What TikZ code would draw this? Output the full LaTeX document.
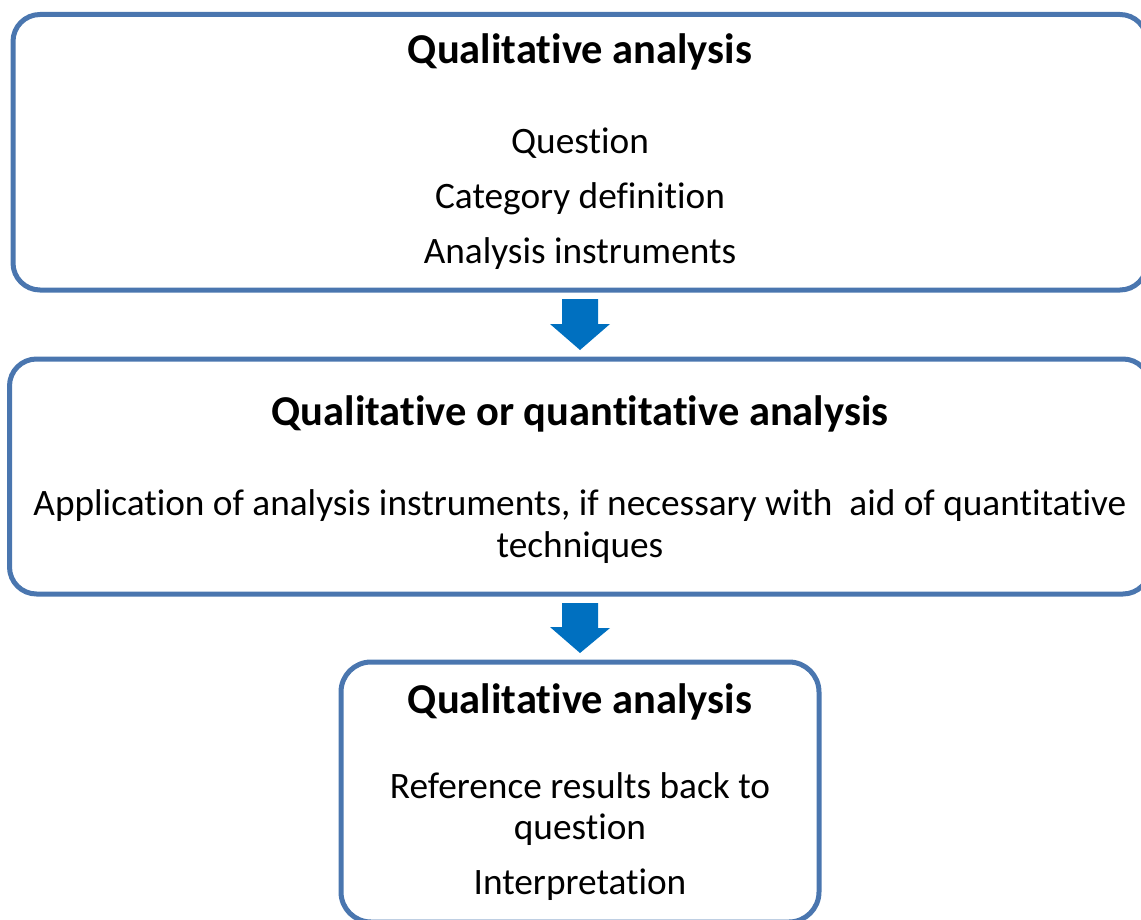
\documentclass[tikz,border=0pt]{standalone}
\usepackage{fontspec}
\setmainfont{Carlito}[Ligatures=NoCommon]
\usetikzlibrary{calc}
\definecolor{boxline}{RGB}{74,118,175}
\definecolor{flowblue}{RGB}{0,112,192}
\begin{document}
\begin{tikzpicture}[x=1pt,y=-1pt,
  stage/.style={draw=boxline, line width=5pt, rounded corners=27pt,
    rectangle, inner sep=0pt, outer sep=0pt},
  headline/.style={anchor=base, inner sep=0pt, font=\fontsize{42.5}{50}\selectfont\bfseries},
  bodyline/.style={anchor=base, inner sep=0pt, font=\fontsize{37.3}{42}\selectfont},
  flow/.style={fill=flowblue}]
\useasboundingbox (0,0) rectangle (1141,920);
\clip (0,0) rectangle (1141,920);

% stage boxes
\node[stage, minimum width=1134pt, minimum height=275.5pt] (top) at (580,152.25) {};
\node[stage, minimum width=1140.5pt, minimum height=235pt] (mid) at (579.75,476.5) {};
\node[stage, rounded corners=30pt, minimum width=478pt, minimum height=260pt] (bot) at (580,792) {};

% first stage
\node[headline] (t1) at (580,63.5) {Qualitative analysis};
\node[bodyline] (t1a) at (580,153.5) {Question};
\node[bodyline] (t1b) at (580,209) {Category definition};
\node[bodyline] (t1c) at (580,264) {Analysis instruments};

% second stage
\node[headline] (t2) at (580,425) {Qualitative or quantitative analysis};
\node[bodyline] (t2a) at (580,515.5) {Application of analysis instruments, if necessary with\ \ aid of quantitative};
\node[bodyline] (t2b) at (580,557) {techniques};

% third stage
\node[headline] (t3) at (580,713) {Qualitative analysis};
\node[bodyline] (t3a) at (580,798) {Reference results back to};
\node[bodyline] (t3b) at (580,839.5) {question};
\node[bodyline] (t3c) at (580,894) {Interpretation};

% block arrows between the stages
\fill[flow] ($(top.south)+(-18,9)$) -- ++(36,0) -- ++(0,25) -- ++(12,0)
  -- ($(mid.north -| top.south)+(0,-9)$) -- ++(-30,-26) -- ++(12,0) -- cycle;
\fill[flow] ($(mid.south -| bot.north)+(-18,9)$) -- ++(36,0) -- ++(0,25) -- ++(12,0)
  -- ($(bot.north)+(0,-9)$) -- ++(-30,-26) -- ++(12,0) -- cycle;
\end{tikzpicture}
\end{document}
